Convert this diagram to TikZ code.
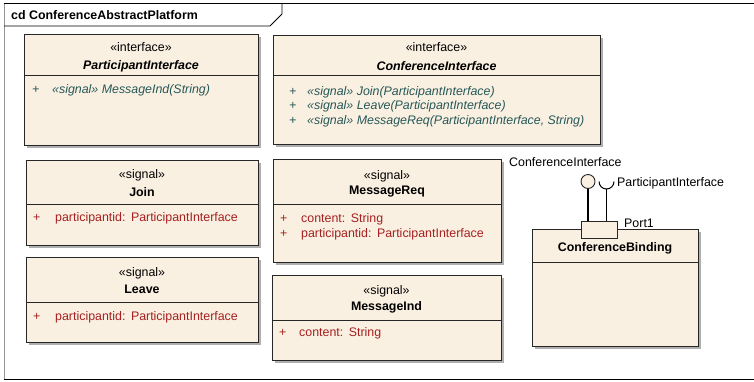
\documentclass[tikz,border=0pt]{standalone}
\usepackage{fontspec}
\setmainfont{Liberation Sans}
\usetikzlibrary{positioning}
\definecolor{classfill}{RGB}{250,240,226}
\definecolor{attrred}{RGB}{165,32,32}
\definecolor{opteal}{RGB}{38,88,88}
\definecolor{shadowgray}{RGB}{175,175,175}
\definecolor{framegray}{RGB}{150,150,150}

\tikzset{
	classbox/.style={draw=black!85,fill=classfill,line width=0.9pt},
	txt/.style={inner sep=0pt,font=\fontsize{12.4}{14}\selectfont},
	cname/.style={txt,font=\fontsize{12.4}{14}\selectfont\bfseries},
	iname/.style={txt,font=\fontsize{12.4}{14}\selectfont\bfseries\itshape},
	attr/.style={txt,anchor=west,text=attrred},
	oper/.style={txt,anchor=west,text=opteal,font=\fontsize{12.4}{14}\selectfont\itshape},
}

% shadow, box and compartment line of one class
\newcommand{\umlclass}[5]{%
	\fill[shadowgray] (#1+3,#2+3) rectangle (#3+3,#4+3);
	\draw[classbox] (#1,#2) rectangle (#3,#4);
	\draw[black!85,line width=0.9pt] (#1,#5) -- (#3,#5);
}

\begin{document}
\begin{tikzpicture}[x=1pt,y=-1pt]
	\useasboundingbox (0,0) rectangle (754,381);
	
	% diagram frame
	\draw[framegray,line width=0.8pt] (4,3) -- (4,380);
	\draw[black,line width=0.8pt] (4,3) -- (754,3);
	\draw[black,line width=0.8pt] (4,379.5) -- (754,379.5);
	\draw[black,line width=0.8pt] (4,26) -- (270,26) -- (282,14) -- (282,3);
	\node[cname,anchor=west] (frametitle) at (11,15) {cd ConferenceAbstractPlatform};
	
	% interfaces
	\umlclass{24}{34}{258}{145}{75}
	\node[txt] (pistereo) at (141,47) {«interface»};
	\node[iname] (piname) at (141,66) {ParticipantInterface};
	\node[oper] (piplus) at (32,90) {+};
	\node[oper] (piop) at (52,90) {«signal» MessageInd(String)};
	
	\umlclass{273}{35}{600}{144}{75}
	\node[txt] (cistereo) at (436.5,47) {«interface»};
	\node[iname] (ciname) at (436.5,66) {ConferenceInterface};
	\node[oper] (ciplusa) at (289,92) {+};
	\node[oper] (ciopa) at (307,92) {«signal» Join(ParticipantInterface)};
	\node[oper] (ciplusb) at (289,106) {+};
	\node[oper] (ciopb) at (307,106) {«signal» Leave(ParticipantInterface)};
	\node[oper] (ciplusc) at (289,121) {+};
	\node[oper] (ciopc) at (307,121) {«signal» MessageReq(ParticipantInterface, String)};
	
	% signals
	\umlclass{26}{160}{258}{245}{204}
	\node[txt] (joinstereo) at (142,175) {«signal»};
	\node[cname] (joinname) at (142,192) {Join};
	\node[attr] (joinplus) at (33,218) {+};
	\node[attr] (joinattr) at (55,218) {participantid:\ \,ParticipantInterface};
	
	\umlclass{26}{257}{258}{342}{302}
	\node[txt] (leavestereo) at (142,273) {«signal»};
	\node[cname] (leavename) at (142,289) {Leave};
	\node[attr] (leaveplus) at (33,317) {+};
	\node[attr] (leaveattr) at (55,317) {participantid:\ \,ParticipantInterface};
	
	\umlclass{273}{159}{501}{262}{204}
	\node[txt] (mrstereo) at (387,176) {«signal»};
	\node[cname] (mrname) at (387,192) {MessageReq};
	\node[attr] (mrplusa) at (280,219) {+};
	\node[attr] (mrattra) at (301,219) {content:\ \,String};
	\node[attr] (mrplusb) at (280,234) {+};
	\node[attr] (mrattrb) at (301,234) {participantid:\ \,ParticipantInterface};
	
	\umlclass{272}{275}{501}{360}{320}
	\node[txt] (mistereo) at (386.5,291) {«signal»};
	\node[cname] (miname) at (386.5,307) {MessageInd};
	\node[attr] (miplus) at (279,333) {+};
	\node[attr] (miattr) at (299,333) {content:\ \,String};
	
	% component with port and interfaces
	\umlclass{532}{229}{698}{346}{262}
	\node[cname] (cbname) at (615,248) {ConferenceBinding};
	\node[classbox,draw=black!85,minimum width=36pt,minimum height=17pt,inner sep=0pt] (port1) at (599,229.5) {};
	\node[txt,anchor=west] (portlabel) at (624,223) {Port1};
	
	\node[circle,classbox,line width=0.9pt,minimum size=14pt,inner sep=0pt] (provided) at (588,181.5) {};
	\coordinate (required) at (606.5,181.5);
	\draw[black,line width=1.3pt] (provided.south) -- (provided.south |- port1.north);
	\draw[black,line width=1.3pt] (required) ++(0,7.5) -- (required |- port1.north);
	\draw[black,line width=1pt] ([xshift=-7.5pt]required) arc[start angle=180,end angle=360,radius=7.5pt];
	\node[txt,anchor=west] (provlabel) at (509,162) {ConferenceInterface};
	\node[txt,anchor=west] (reqlabel) at (617,183) {ParticipantInterface};
\end{tikzpicture}
\end{document}
